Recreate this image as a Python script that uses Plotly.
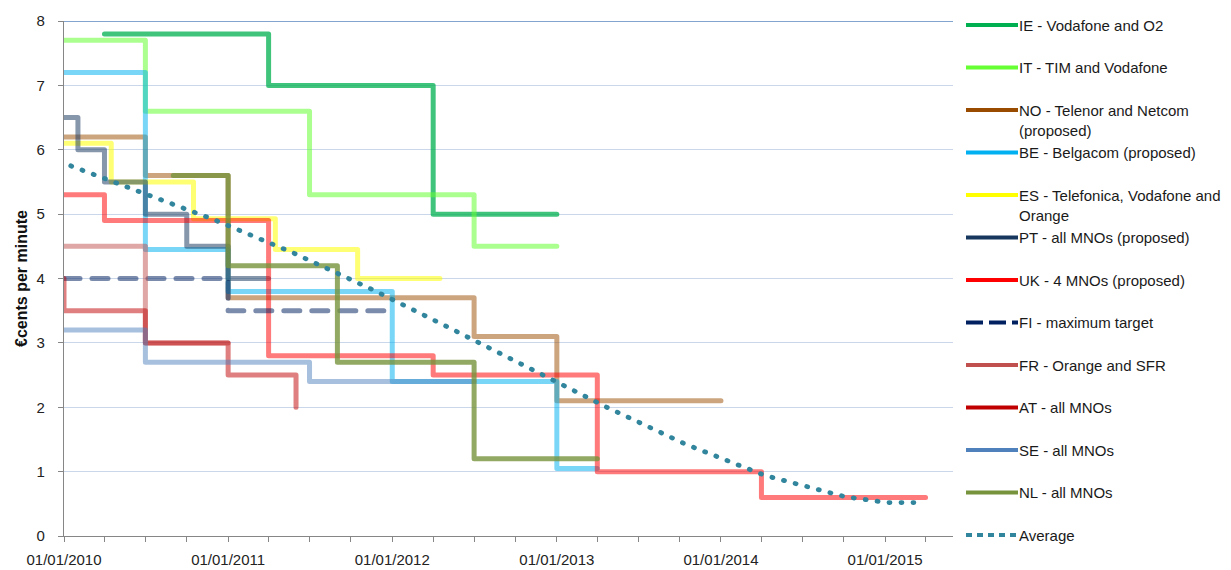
import plotly.graph_objects as go

# ---------------- data ----------------
ie_dates = ["2010-04-01", "2011-04-01", "2012-04-01", "2013-01-01"]
ie_vals = [7.8, 7.0, 5.0, 5.0]

it_dates = ["2010-01-01", "2010-07-01", "2011-07-01", "2012-07-01", "2013-01-01"]
it_vals = [7.7, 6.6, 5.3, 4.5, 4.5]

no_dates = ["2010-01-01", "2010-07-01", "2011-01-01", "2012-07-01", "2013-01-01", "2014-01-01"]
no_vals = [6.2, 5.6, 3.7, 3.1, 2.1, 2.1]

be_dates = ["2010-01-01", "2010-07-01", "2011-01-01", "2012-01-01", "2013-01-01", "2013-04-01"]
be_vals = [7.2, 4.45, 3.8, 2.4, 1.05, 1.05]

es_dates = ["2010-01-01", "2010-04-16", "2010-10-16", "2011-04-16", "2011-10-16", "2012-04-16"]
es_vals = [6.1, 5.5, 4.93, 4.45, 4.0, 4.0]

pt_dates = ["2010-01-01", "2010-02-01", "2010-04-01", "2010-07-01", "2010-10-01", "2011-01-01", "2011-04-01"]
pt_vals = [6.5, 6.0, 5.5, 5.0, 4.5, 4.0, 4.0]

uk_dates = ["2010-01-01", "2010-04-01", "2011-04-01", "2012-04-01", "2013-04-01", "2014-04-01", "2015-04-01"]
uk_vals = [5.3, 4.9, 2.8, 2.5, 1.0, 0.6, 0.6]

fi_dates = ["2010-01-01", "2011-01-01", "2012-01-01"]
fi_vals = [4.0, 3.5, 3.5]

fr_dates = ["2010-01-01", "2010-07-01", "2011-01-01"]
fr_vals = [4.5, 3.0, 3.0]

at_dates = ["2010-01-01", "2010-01-01", "2010-07-01", "2011-01-01", "2011-06-01", "2011-06-01"]
at_vals = [4.0, 3.5, 3.0, 2.5, 2.0, 2.0]

se_dates = ["2010-01-01", "2010-07-01", "2011-07-01", "2012-07-01"]
se_vals = [3.2, 2.7, 2.4, 2.4]

nl_dates = ["2010-09-01", "2011-01-01", "2011-09-01", "2012-07-01", "2013-04-01"]
nl_vals = [5.6, 4.2, 2.7, 1.2, 1.2]

avg_dates = ["2010-01-16", "2010-06-10", "2010-12-02", "2011-05-25", "2011-11-17",
             "2012-05-08", "2012-10-29", "2013-04-22", "2013-10-13", "2014-04-09",
             "2014-10-04", "2015-01-05", "2015-03-06"]
avg_vals = [5.75, 5.37, 4.91, 4.40, 3.83, 3.23, 2.62, 2.00, 1.43, 0.94, 0.61, 0.52, 0.52]

legend_names = [
    "IE - Vodafone and O2",
    "IT - TIM and Vodafone",
    "NO - Telenor and Netcom<br>(proposed)",
    "BE - Belgacom (proposed)",
    "ES - Telefonica, Vodafone and<br>Orange",
    "PT - all MNOs (proposed)",
    "UK - 4 MNOs (proposed)",
    "FI - maximum target",
    "FR - Orange and SFR",
    "AT - all MNOs",
    "SE - all MNOs",
    "NL - all MNOs",
    "Average",
]

x_tick_vals = ["2010-01-01", "2011-01-01", "2012-01-01", "2013-01-01", "2014-01-01", "2015-01-01"]
x_tick_labels = ["01/01/2010", "01/01/2011", "01/01/2012", "01/01/2013", "01/01/2014", "01/01/2015"]

# ---------------- styling ----------------
series = [
    (ie_dates, ie_vals, (0, 176, 80), 0.75, "solid"),
    (it_dates, it_vals, (102, 255, 51), 0.55, "solid"),
    (no_dates, no_vals, (153, 76, 0), 0.5, "solid"),
    (be_dates, be_vals, (0, 176, 240), 0.52, "solid"),
    (es_dates, es_vals, (255, 255, 0), 0.55, "solid"),
    (pt_dates, pt_vals, (23, 55, 94), 0.52, "solid"),
    (uk_dates, uk_vals, (255, 0, 0), 0.52, "solid"),
    (fi_dates, fi_vals, (0, 32, 96), 0.52, "16px,12px"),
    (fr_dates, fr_vals, (192, 80, 77), 0.5, "solid"),
    (at_dates, at_vals, (192, 0, 0), 0.5, "solid"),
    (se_dates, se_vals, (79, 129, 189), 0.5, "solid"),
    (nl_dates, nl_vals, (119, 147, 60), 0.8, "solid"),
]
avg_color = (49, 133, 156)

def rgba(c, a):
    return f"rgba({c[0]},{c[1]},{c[2]},{a})"

def rgb(c):
    return f"rgb({c[0]},{c[1]},{c[2]})"

fig = go.Figure()
for (d, v, c, a, dash), name in zip(series, legend_names):
    fig.add_trace(go.Scatter(
        x=d, y=v, mode="lines", line_shape="hv",
        line=dict(color=rgba(c, a), width=5, dash=dash),
        name=name.replace("<br>", " "), showlegend=False, hoverinfo="skip"))
fig.add_trace(go.Scatter(
    x=avg_dates, y=avg_vals, mode="lines",
    line=dict(color=rgb(avg_color), width=4.8, dash="1px,11px"),
    name="Average", showlegend=False, hoverinfo="skip"))

# ---------------- layout geometry (pixels) ----------------
W, H = 1231, 570
L, R, T, B = 64, 953, 21, 536

def px_x(p):
    return (p - L) / (R - L)

def px_y(p):
    return (B - p) / (B - T)

font_family = "Liberation Sans, Arial, sans-serif"
shapes = []
annotations = []

# top border line at y=8
shapes.append(dict(type="line", xref="paper", yref="y", x0=0, x1=1, y0=8, y1=8,
                   line=dict(color="#5b86c0", width=1.6)))

# manual legend
legend_colors = [s[2] for s in series] + [avg_color]
legend_dashes = ["solid"] * 7 + ["17px,6px"] + ["solid"] * 4 + ["6px,5px"]
for i, (name, c, dash) in enumerate(zip(legend_names, legend_colors, legend_dashes)):
    yc = 25 + 42.5 * i
    shapes.append(dict(type="line", xref="paper", yref="paper",
                       x0=px_x(966), x1=px_x(1018), y0=px_y(yc), y1=px_y(yc),
                       line=dict(color=rgb(c), width=4, dash=dash)))
    two = "<br>" in name
    annotations.append(dict(xref="paper", yref="paper", x=px_x(1017),
                            y=px_y(yc + (10 if two else 0)), xanchor="left", yanchor="middle",
                            text=name, showarrow=False, align="left",
                            font=dict(size=15, color="#1a1a1a", family=font_family)))

# y-axis title
annotations.append(dict(xref="paper", yref="paper", x=px_x(21), y=px_y(279),
                        xanchor="center", yanchor="middle", textangle=-90,
                        text="<b>€cents per minute</b>", showarrow=False,
                        font=dict(size=16, color="#111", family=font_family)))

fig.update_layout(
    width=W, height=H,
    margin=dict(l=L, r=W - R, t=T, b=H - B, pad=0, autoexpand=False),
    paper_bgcolor="white", plot_bgcolor="white",
    font=dict(family=font_family, size=15, color="#222"),
    showlegend=False,
    shapes=shapes, annotations=annotations,
    xaxis=dict(
        type="date", range=["2010-01-01", "2015-06-01"], automargin=False,
        tickvals=x_tick_vals, ticktext=x_tick_labels,
        ticks="outside", ticklen=5, tickcolor="#868686", tickwidth=1,
        showline=True, linecolor="#868686", linewidth=1.3,
        showgrid=False, zeroline=False, ticklabelstandoff=5,
        minor=dict(dtick="M3", tick0="2010-01-01", ticks="outside", ticklen=5,
                   tickcolor="#868686", showgrid=False),
        tickfont=dict(size=15, color="#222"),
    ),
    yaxis=dict(
        range=[0, 8], dtick=1, tick0=0, automargin=False,
        ticks="outside", ticklen=5, tickcolor="#868686",
        showline=True, linecolor="#868686", linewidth=1.3,
        showgrid=True, gridcolor="#cad7eb", gridwidth=1.3,
        zeroline=False, ticklabelstandoff=10,
        tickfont=dict(size=15, color="#222"),
    ),
)

post = """
document.documentElement.style.margin = '0';
document.body.style.margin = '0';
document.body.style.padding = '0';
var gd = document.getElementById('{plot_id}');
function rc(){
  gd.querySelectorAll('.scatterlayer path.js-line').forEach(function(p){
    p.style.strokeLinecap = 'round'; p.style.strokeLinejoin = 'round';
  });
}
rc();
if (gd.on) { gd.on('plotly_afterplot', rc); }
"""

fig.write_html("out.html", post_script=post, config={"displayModeBar": False})
